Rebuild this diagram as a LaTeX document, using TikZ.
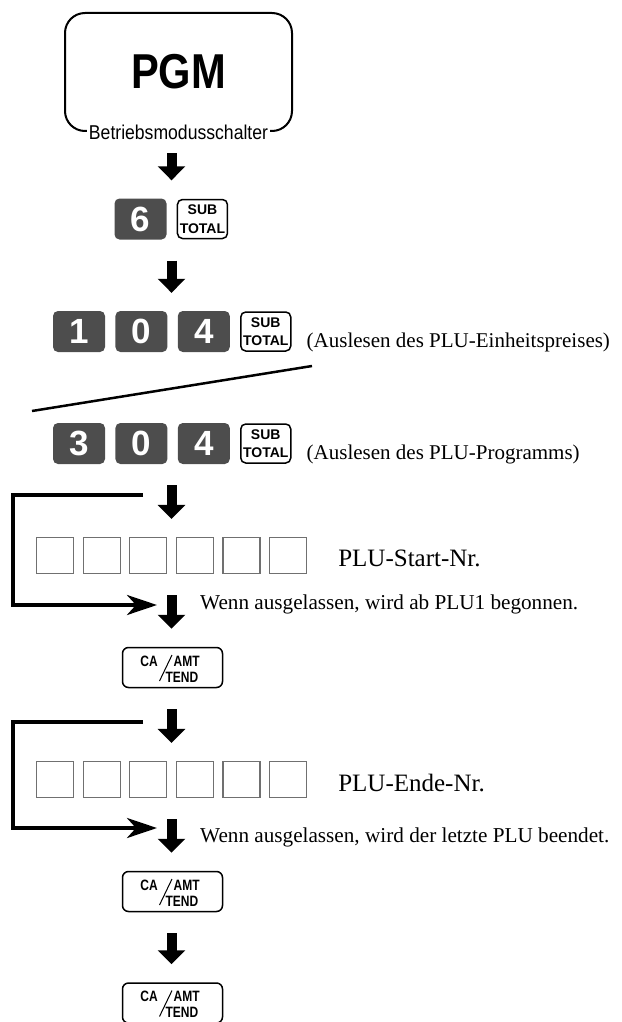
\documentclass[tikz,border=0pt]{standalone}
\usepackage{fontspec}
\setmainfont{Liberation Serif}
\newfontfamily\keyfont[FakeStretch=0.85]{Liberation Sans Bold}
\newfontfamily\keynarrow[FakeStretch=0.8]{Liberation Sans Bold}
\newfontfamily\keywide{Liberation Sans Bold}
\newfontfamily\lblfont[FakeStretch=0.88]{Liberation Sans}
\usetikzlibrary{positioning,arrows.meta}
\definecolor{keygray}{HTML}{4D4D4D}
\definecolor{cellgray}{HTML}{707070}

% CA/AMT TEND key: name, position
\newcommand{\cakey}[2]{%
  \node[cakey] (#1) at (#2) {};
  \node[keytxt,anchor=base east] (#1-ca) at ([xshift=-14.5pt,yshift=1.5pt]#1.center) {CA};
  \node[keytxt,anchor=base west] (#1-amt) at ([xshift=1pt,yshift=1.5pt]#1.center) {AMT};
  \node[keytxt,anchor=base east] (#1-tend) at ([xshift=26pt,yshift=-14.5pt]#1.center) {TEND};
  \draw[line width=1pt] ([xshift=-0.5pt,yshift=12.5pt]#1.center) -- ([xshift=-13pt,yshift=-13.5pt]#1.center);
}

\begin{document}
\begin{tikzpicture}[x=1pt,y=-1pt,
  modebox/.style={draw,line width=2pt,rounded corners=20pt,minimum width=227pt,
    minimum height=118pt,font=\keyfont\fontsize{49}{49}\selectfont},
  modelbl/.style={fill=white,inner xsep=2pt,inner ysep=1pt,
    font=\lblfont\fontsize{20}{20}\selectfont},
  numkey/.style={fill=keygray,rounded corners=5pt,minimum width=52pt,minimum height=41pt,
    inner sep=0pt,text=white,font=\keywide\fontsize{35}{35}\selectfont},
  subkey/.style={draw,line width=1.5pt,rounded corners=5pt,minimum width=50pt,
    minimum height=39pt,inner sep=0pt,align=center,font=\keywide\fontsize{14}{18.5}\selectfont},
  cakey/.style={draw,line width=1.5pt,rounded corners=6pt,minimum width=100pt,
    minimum height=40pt,inner sep=0pt},
  keytxt/.style={inner sep=0pt,font=\keynarrow\fontsize{15}{15}\selectfont},
  cell/.style={draw=cellgray,line width=1.2pt,minimum width=37pt,minimum height=36pt,inner sep=0pt},
  note/.style={inner sep=0pt,font=\fontsize{21.2}{24}\selectfont},
  downarr/.style={line width=10pt,-{Triangle[length=14pt,width=27pt]},
    shorten <=21pt,shorten >=18pt},
  skiparr/.style={line width=4pt,-{Stealth[length=30pt,width=20pt,inset=9pt]}}]
\useasboundingbox (0,0) rectangle (621,1022);
\coordinate (axis) at (171.5,0);

% mode switch
\node[modebox] (pgm) at (178.5,72) {PGM};
\node[modelbl] (pgmlbl) at (pgm.south) {Betriebsmodusschalter};

% 6 SUBTOTAL
\node[numkey] (k6) at (140.5,219) {6};
\node[subkey,right=10pt of k6] (sub1) {SUB\\TOTAL};

% 1 0 4 SUBTOTAL
\node[numkey] (ka1) at (79,331.5) {1};
\node[numkey,right=10pt of ka1] (ka2) {0};
\node[numkey,right=10pt of ka2] (ka3) {4};
\node[subkey,right=10pt of ka3] (sub2) {SUB\\TOTAL};
\node[note,anchor=base west,font=\fontsize{21}{24}\selectfont] (rd1)
  at ([xshift=15pt,yshift=4pt]sub2.south east) {(Auslesen des PLU-Einheitspreises)};

\draw[line width=2.5pt] (32,411) -- (312,366);

% 3 0 4 SUBTOTAL
\node[numkey] (kb1) at (79,443.5) {3};
\node[numkey,right=10pt of kb1] (kb2) {0};
\node[numkey,right=10pt of kb2] (kb3) {4};
\node[subkey,right=10pt of kb3] (sub3) {SUB\\TOTAL};
\node[note,anchor=base west,font=\fontsize{21}{24}\selectfont] (rd2)
  at ([xshift=15pt,yshift=4pt]sub3.south east) {(Auslesen des PLU-Programms)};

% start number
\foreach \i in {1,...,6}
  \node[cell] (s\i) at ({55+46.6*(\i-1)},555.5) {};
\node[note,anchor=west,font=\fontsize{25}{27}\selectfont] (startlbl)
  at ([xshift=31pt,yshift=-3pt]s6.east) {PLU-Start-Nr.};
\coordinate (skip1in) at (143,495);
\coordinate (skip1out) at (157,605);
\draw[skiparr] (skip1in) -- ++(-130,0) |- (skip1out);
\node[note,anchor=base west] (skip1txt) at (200,609) {Wenn ausgelassen, wird ab PLU1 begonnen.};

\cakey{ca1}{172.5,667.5}

% end number
\foreach \i in {1,...,6}
  \node[cell] (e\i) at ({55+46.6*(\i-1)},779.5) {};
\node[note,anchor=west,font=\fontsize{25}{27}\selectfont] (endlbl)
  at ([xshift=31pt,yshift=-3pt]e6.east) {PLU-Ende-Nr.};
\coordinate (skip2in) at (143,722);
\coordinate (skip2out) at (157,828);
\draw[skiparr] (skip2in) -- ++(-130,0) |- (skip2out);
\node[note,anchor=base west] (skip2txt) at (200,842) {Wenn ausgelassen, wird der letzte PLU beendet.};

\cakey{ca2}{172.5,891.5}
\cakey{ca3}{172.5,1003}

% flow arrows
\draw[downarr] (pgm.south -| axis) -- (k6.north -| axis);
\draw[downarr] (k6.south -| axis) -- (ka2.north -| axis);
\draw[downarr] (kb2.south -| axis) -- (s3.north -| axis);
\draw[downarr] (s3.south -| axis) -- (ca1.north -| axis);
\draw[downarr] (ca1.south -| axis) -- (e3.north -| axis);
\draw[downarr] (e3.south -| axis) -- (ca2.north -| axis);
\draw[downarr] (ca2.south -| axis) -- (ca3.north -| axis);
\end{tikzpicture}
\end{document}
